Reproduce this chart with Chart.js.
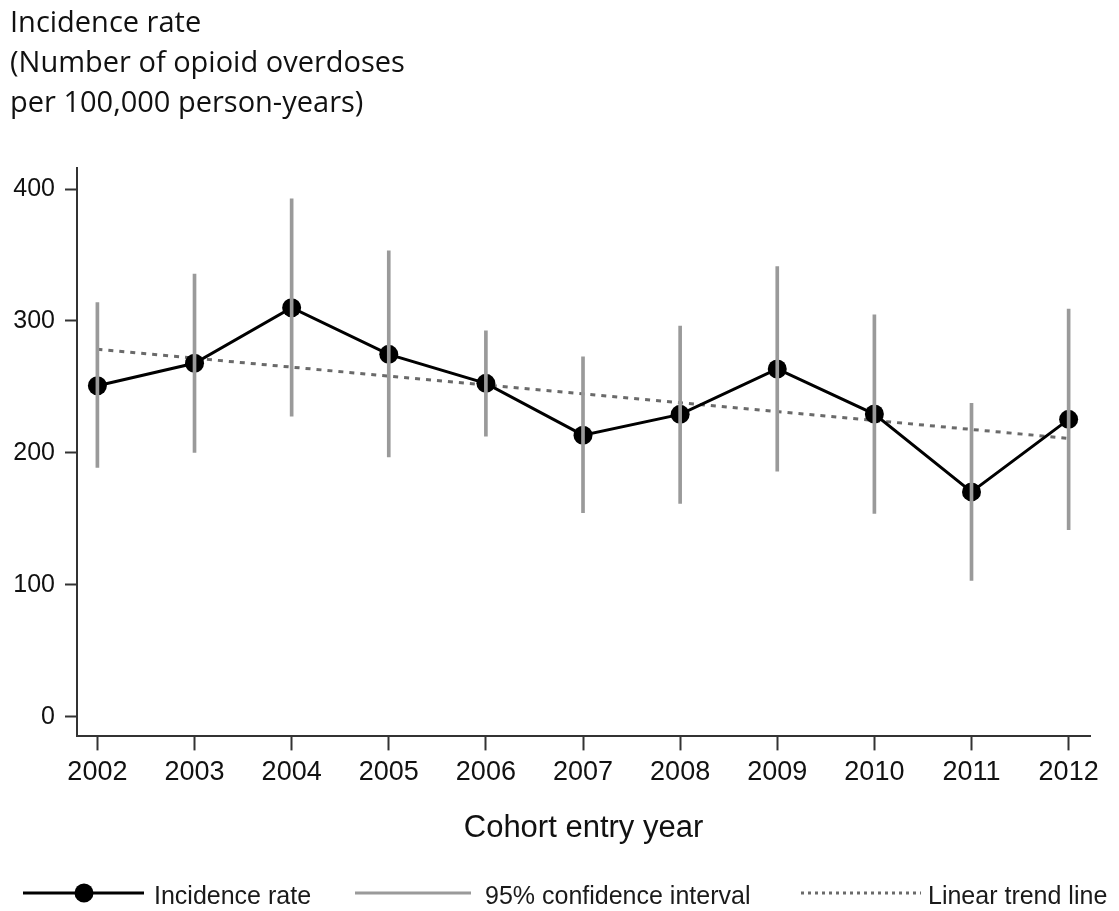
<!DOCTYPE html>
<html>
<head>
<meta charset="utf-8">
<script src="https://cdn.jsdelivr.net/npm/chart.js@4.4.1/dist/chart.umd.min.js"></script>
<style>
  html, body { margin: 0; padding: 0; background: #ffffff; }
  #wrap { position: relative; width: 1119px; height: 911px; }
  #legend { position: absolute; left: 0; top: 878px; width: 1119px; height: 30px;
            font-family: "Liberation Sans", Arial, sans-serif; font-size: 25px; color: #1a1a1a; }
  .item { position: absolute; top: 0; height: 30px; display: flex; align-items: center; white-space: nowrap; }
  .item span { position: relative; top: 2px; }
  .item svg { display: block; }
</style>
</head>
<body>
<div id="wrap">
  <canvas id="c" width="1119" height="911"></canvas>
  <div id="legend"></div>
</div>
<script>
// ---- data ----
const years      = [2002, 2003, 2004, 2005, 2006, 2007, 2008, 2009, 2010, 2011, 2012];
const incidence  = [250.9, 267.9, 310.1, 274.7, 252.7, 213.4, 229.2, 263.6, 229.4, 170.4, 225.4];
const ciLower    = [188.9, 200.3, 227.9, 197.0, 212.7, 154.7, 161.6, 186.1, 154.0, 103.3, 141.8];
const ciUpper    = [313.9, 335.5, 392.6, 353.1, 292.6, 272.9, 296.2, 341.2, 304.6, 237.5, 309.1];
const trendYears  = [2002, 2012];
const trendValues = [278.5, 211.0];
const yTicks     = [0, 100, 200, 300, 400];
const titleLines = ['Incidence rate', '(Number of opioid overdoses', 'per 100,000 person-years)'];
const xTitle     = 'Cohort entry year';
const seriesLabels = ['Incidence rate', '95% confidence interval', 'Linear trend line'];

const FONT = '"Liberation Sans", Arial, Helvetica, sans-serif';
const AXIS = '#333333';

const ctx = document.getElementById('c').getContext('2d');
const chart = new Chart(ctx, {
  type: 'line',
  data: {
    datasets: [
      {
        type: 'bar',
        label: seriesLabels[1],
        data: years.map((y, i) => ({ x: y, y: [ciLower[i], ciUpper[i]] })),
        backgroundColor: '#9a9a9a',
        borderWidth: 0,
        barThickness: 3,
        grouped: false,
        order: 0
      },
      {
        type: 'line',
        label: seriesLabels[0],
        data: years.map((y, i) => ({ x: y, y: incidence[i] })),
        borderColor: '#000000',
        borderWidth: 3,
        pointRadius: 9.5,
        pointBackgroundColor: '#000000',
        pointBorderWidth: 0,
        tension: 0,
        order: 1
      },
      {
        type: 'line',
        label: seriesLabels[2],
        data: trendYears.map((y, i) => ({ x: y, y: trendValues[i] })),
        borderColor: '#6a6a6a',
        borderWidth: 3,
        borderDash: [5, 6],
        pointRadius: 0,
        tension: 0,
        order: 2
      }
    ]
  },
  options: {
    responsive: false,
    animation: false,
    devicePixelRatio: 1,
    events: [],
    layout: { padding: { left: 10, right: 29, top: 0, bottom: 64 } },
    plugins: {
      legend: { display: false },
      tooltip: { enabled: false },
      title: {
        display: true,
        text: titleLines,
        align: 'start',
        color: '#111111',
        font: { family: '"Open Sans", Lato, sans-serif', size: 29, weight: 'normal', lineHeight: '40px' },
        padding: { top: 4, bottom: 44 }
      }
    },
    scales: {
      x: {
        type: 'linear',
        offset: false,
        min: 2001.79,
        max: 2012.22,
        afterBuildTicks: (s) => { s.ticks = years.map(v => ({ value: v })); },
        ticks: {
          callback: (v) => String(v),
          color: '#111111',
          font: { family: FONT, size: 27 },
          padding: 6,
          maxRotation: 0,
          autoSkip: false
        },
        grid: { display: true, offset: false, drawOnChartArea: false, drawTicks: true, tickLength: 14, tickWidth: 2, tickColor: AXIS },
        border: { display: true, color: AXIS, width: 2 },
        title: {
          display: true,
          text: xTitle,
          color: '#111111',
          font: { family: FONT, size: 31 },
          padding: { top: 15, bottom: 0 }
        }
      },
      y: {
        type: 'linear',
        min: -15,
        max: 416,
        afterBuildTicks: (s) => { s.ticks = yTicks.map(v => ({ value: v })); },
        afterFit: (s) => { s.width = 67; },
        ticks: {
          callback: (v) => String(v),
          color: '#111111',
          font: { family: FONT, size: 25 },
          padding: 10
        },
        grid: { display: true, drawOnChartArea: false, drawTicks: true, tickLength: 12, tickWidth: 2, tickColor: AXIS },
        border: { display: true, color: AXIS, width: 2 }
      }
    }
  }
});

// ---- HTML legend built from the datasets ----
const legendSpec = [
  { ds: 1, left: 23,  w: 121, gap: 10 },
  { ds: 0, left: 355, w: 116, gap: 14 },
  { ds: 2, left: 801, w: 120, gap: 7 }
];
const legendEl = document.getElementById('legend');
legendSpec.forEach(spec => {
  const ds = chart.data.datasets[spec.ds];
  const item = document.createElement('div');
  item.className = 'item';
  item.style.left = spec.left + 'px';
  const NS = 'http://www.w3.org/2000/svg';
  const svg = document.createElementNS(NS, 'svg');
  svg.setAttribute('width', spec.w);
  svg.setAttribute('height', 30);
  const line = document.createElementNS(NS, 'line');
  line.setAttribute('x1', 0); line.setAttribute('x2', spec.w);
  line.setAttribute('y1', 15); line.setAttribute('y2', 15);
  line.setAttribute('stroke', ds.type === 'bar' ? ds.backgroundColor : ds.borderColor);
  line.setAttribute('stroke-width', 3);
  if (ds.borderDash) line.setAttribute('stroke-dasharray', '3 4');
  svg.appendChild(line);
  if (ds.pointRadius) {
    const c = document.createElementNS(NS, 'circle');
    c.setAttribute('cx', 61); c.setAttribute('cy', 15); c.setAttribute('r', ds.pointRadius);
    c.setAttribute('fill', ds.pointBackgroundColor);
    svg.appendChild(c);
  }
  item.appendChild(svg);
  const txt = document.createElement('span');
  txt.textContent = ds.label;
  txt.style.marginLeft = spec.gap + 'px';
  item.appendChild(txt);
  legendEl.appendChild(item);
});
</script>
</body>
</html>
